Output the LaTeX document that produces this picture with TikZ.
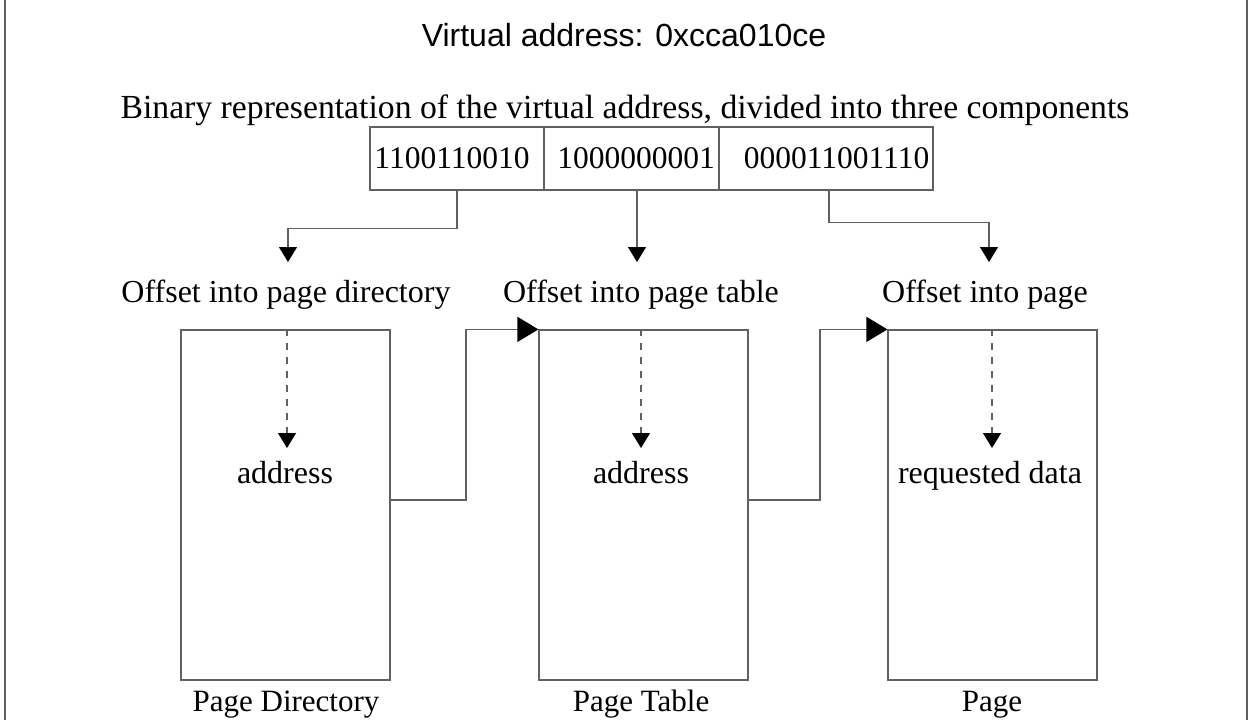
\documentclass[tikz,border=0pt]{standalone}
\usepackage{fontspec}
\setmainfont{Liberation Serif}
\newfontfamily\arialf{Liberation Sans}
\usetikzlibrary{arrows.meta}
\begin{document}
\begin{tikzpicture}[x=1pt,y=-1pt,
  ln/.style={draw=black!62, line width=1.2pt},
  smalltip/.style={-{Triangle[length=15pt,width=18pt,color=black]}},
  bigtip/.style={-{Triangle[length=21pt,width=25pt,color=black]}},
  txt/.style={font=\fontsize{32}{35}\selectfont, inner sep=0pt, anchor=base},
  bigtxt/.style={font=\fontsize{33.7}{37}\selectfont, inner sep=0pt, anchor=base},
  lowtxt/.style={font=\fontsize{31}{34}\selectfont, inner sep=0pt, anchor=base},
  ttl/.style={font=\arialf\fontsize{32}{35}\selectfont, inner sep=0pt, anchor=base},
  bitbox/.style={ln, minimum height=63pt, inner sep=0pt, font=\fontsize{31.5}{34}\selectfont},
  page/.style={ln, minimum width=209pt, minimum height=350pt, inner sep=0pt}
]
\useasboundingbox (0,0) rectangle (1249,720);
% side border lines
\coordinate (bl1) at (5,0); \coordinate (bl2) at (5,720);
\coordinate (br1) at (1247,0); \coordinate (br2) at (1247,720);
\draw[ln] (bl1) -- (bl2);
\draw[ln] (br1) -- (br2);

\node[ttl] (title) at (624,46) {Virtual address: 0xcca010ce};
\node[bigtxt] (binrep) at (625,118) {Binary representation of the virtual address, divided into three components};

% binary boxes
\node[bitbox, minimum width=174pt] (b1) at (457,158.5) {1100110010\hspace*{10pt}};
\node[bitbox, minimum width=175pt] (b2) at (631.5,158.5) {\hspace*{9pt}1000000001};
\node[bitbox, minimum width=214pt] (b3) at (826,158.5) {\hspace*{21pt}000011001110};

% offset labels
\node[txt] (o1) at (286,302) {Offset into page directory};
\node[txt] (o2) at (641,302) {Offset into page table};
\node[txt] (o3) at (985,302) {Offset into page};

\coordinate (t1) at (288,262);
\coordinate (t2) at (637,262);
\coordinate (t3) at (989,262);
\draw[ln, smalltip] (b1.south) -- ++(0,38) -| (t1);
\draw[ln, smalltip] (b2.south -| t2) -- (t2);
\draw[ln, smalltip] ([xshift=3pt]b3.south) -- ++(0,32) -| (t3);

% page boxes
\node[page] (p1) at (285.5,505) {};
\node[page] (p2) at (643.5,505) {};
\node[page] (p3) at (992.5,505) {};

% dashed arrows and inner labels
\node[txt] (a1) at (285,483) {address};
\node[txt] (a2) at (641,483) {address};
\node[txt] (a3) at (990,483) {requested data};
\coordinate (d1) at (287,448);
\coordinate (d2) at (641,448);
\coordinate (d3) at (992,448);
\draw[ln, dashed, dash pattern=on 7pt off 7pt, smalltip] (p1.north -| d1) -- (d1);
\draw[ln, dashed, dash pattern=on 7pt off 7pt, smalltip] (p2.north -| d2) -- (d2);
\draw[ln, dashed, dash pattern=on 7pt off 7pt, smalltip] (p3.north -| d3) -- (d3);

% links between pages
\coordinate (m1) at (466,500);
\coordinate (m2) at (820,500);
\draw[ln, bigtip] (p1.east |- m1) -- (m1) |- (p2.north west);
\draw[ln, bigtip] (p2.east |- m2) -- (m2) |- (p3.north west);

% bottom labels
\node[lowtxt] (n1) at (286,711) {Page Directory};
\node[lowtxt] (n2) at (641,711) {Page Table};
\node[lowtxt] (n3) at (992,711) {Page};
\end{tikzpicture}
\end{document}
